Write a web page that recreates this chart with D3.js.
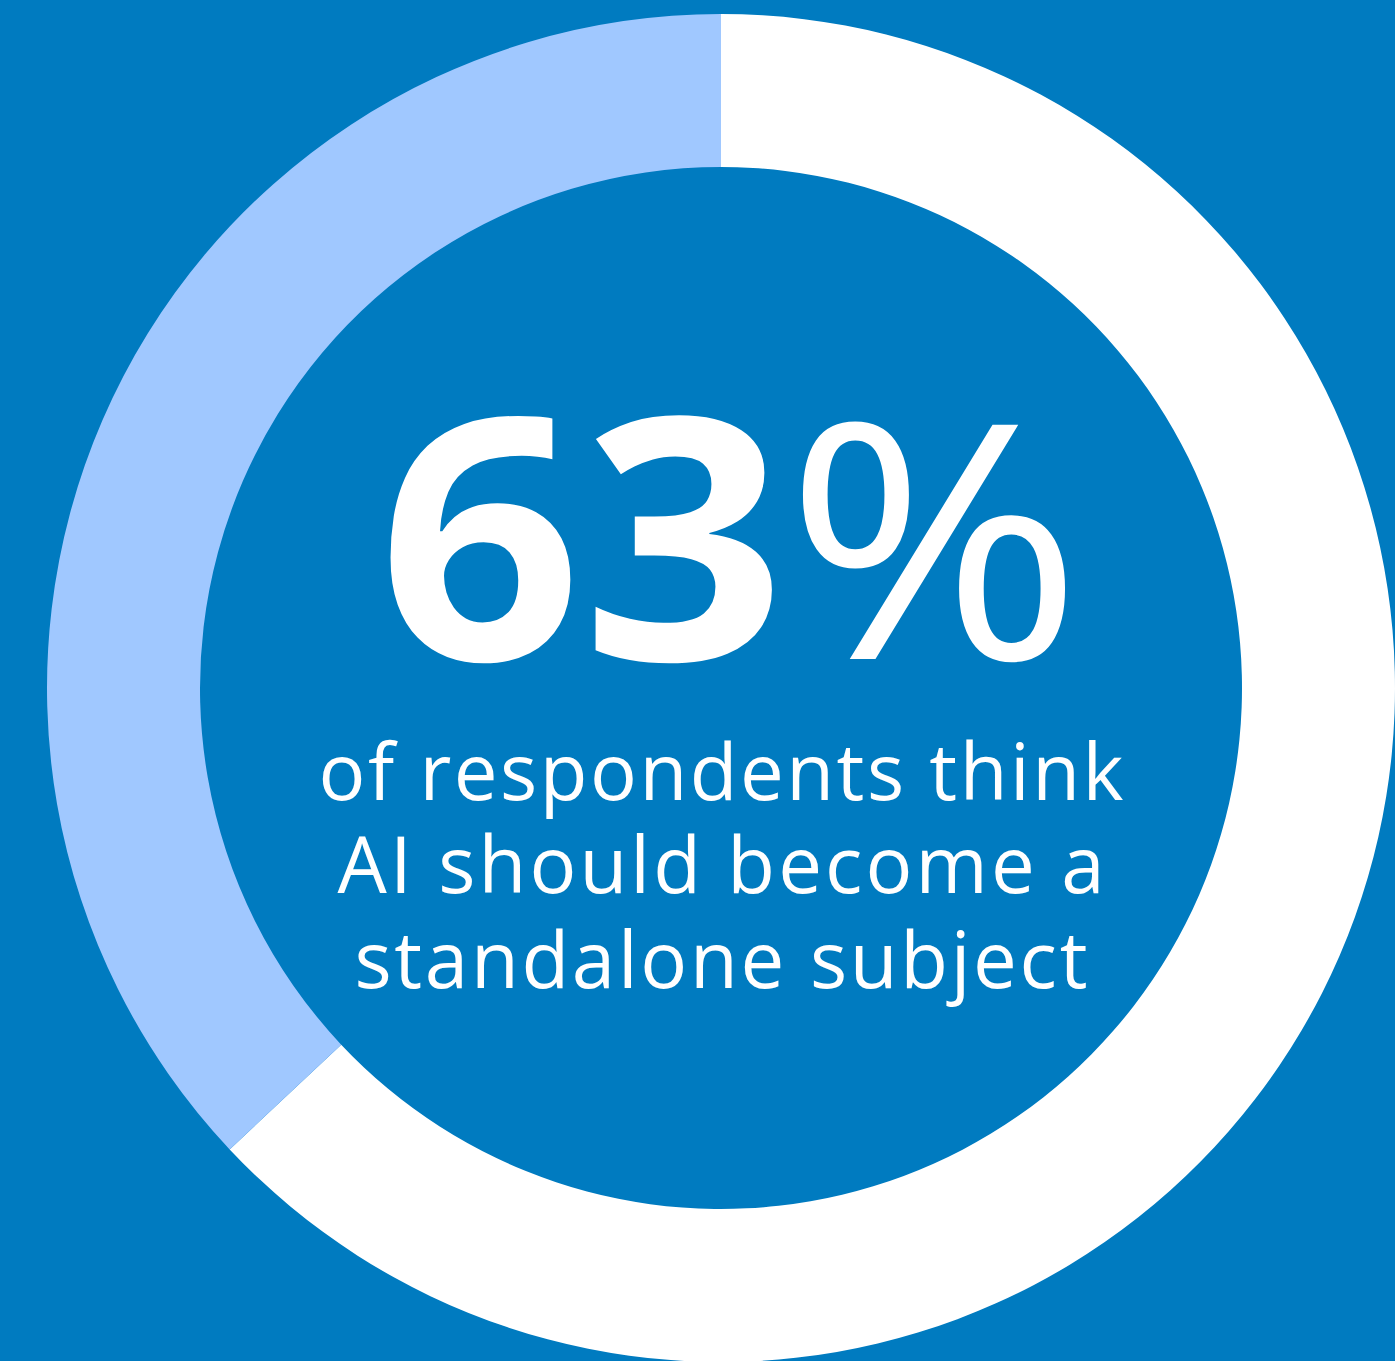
<!DOCTYPE html>
<html>
<head>
<meta charset="utf-8">
<script src="https://cdn.jsdelivr.net/npm/d3@7"></script>
<style>
  html, body { margin: 0; padding: 0; background: #007BC0; }
  svg { display: block; }
</style>
</head>
<body>
<svg id="chart" width="1395" height="1361"></svg>
<script>
// Share of respondents: agree vs. the rest
const segments = ["Agree", "Other"];
const shares = [63, 37];
const segmentColors = ["#FFFFFF", "#A0C8FF"];
const headline = "63";
const headlineUnit = "%";
const captionLines = ["of respondents think", "AI should become a", "standalone subject"];

const W = 1395, H = 1361;
const cx = 721, cy = 688;
const outerR = 674, innerR = 521;

const svg = d3.select("#chart");
svg.append("rect").attr("width", W).attr("height", H).attr("fill", "#007BC0");

const pie = d3.pie().sort(null).value(d => d.v);
const arc = d3.arc().innerRadius(innerR).outerRadius(outerR);
const data = segments.map((s, i) => ({ name: s, v: shares[i] }));

const g = svg.append("g").attr("transform", `translate(${cx},${cy})`);
g.selectAll("path")
  .data(pie(data))
  .join("path")
  .attr("d", arc)
  .attr("fill", (d, i) => segmentColors[i]);

// Big figure: bold number, lighter percent sign
const font = "'Open Sans', 'Noto Sans', sans-serif";
svg.append("text")
  .attr("x", 378)
  .attr("y", 660)
  .attr("fill", "#fff")
  .attr("font-family", font)
  .attr("font-size", 338)
  .attr("font-weight", 700)
  .attr("textLength", 408)
  .attr("lengthAdjust", "spacingAndGlyphs")
  .text(headline);
svg.append("text")
  .attr("x", 785)
  .attr("y", 659)
  .attr("fill", "#fff")
  .attr("font-family", font)
  .attr("font-size", 328)
  .attr("font-weight", 400)
  .attr("textLength", 298)
  .attr("lengthAdjust", "spacingAndGlyphs")
  .text(headlineUnit);

// Caption, three centred lines
const widths = [805, 767, 733];
const baselines = [800, 893, 988];
svg.selectAll("text.caption")
  .data(captionLines)
  .join("text")
  .attr("class", "caption")
  .attr("x", (d, i) => 721 - widths[i] / 2)
  .attr("y", (d, i) => baselines[i])
  .attr("fill", "#fff")
  .attr("font-family", font)
  .attr("font-size", 78)
  .attr("font-weight", 400)
  .attr("textLength", (d, i) => widths[i])
  .attr("lengthAdjust", "spacing")
  .text(d => d);
</script>
</body>
</html>
